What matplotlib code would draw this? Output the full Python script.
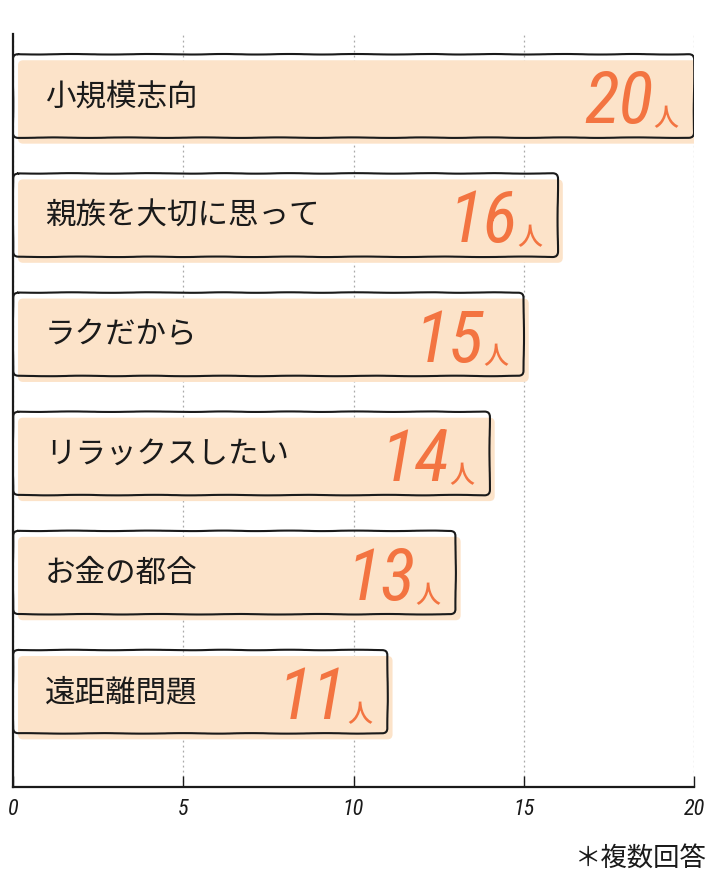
import numpy as np
import matplotlib
matplotlib.use("Agg")
import matplotlib.pyplot as plt
from matplotlib.patches import FancyBboxPatch
from matplotlib import transforms

plt.rcParams['font.family'] = ['Noto Sans CJK JP', 'DejaVu Sans']

# data
categories = ["小規模志向", "親族を大切に思って", "ラクだから",
              "リラックスしたい", "お金の都合", "遠距離問題"]
counts = [20, 16, 15, 14, 13, 11]
xticks = [0, 5, 10, 15, 20]

fill_color = "#fce3c9"
value_color = "#f37441"
num_font = ['Roboto Condensed', 'Noto Sans', 'DejaVu Sans']

fig = plt.figure(figsize=(7.2, 8.79), dpi=100)
ax = fig.add_axes([13 / 720, 91 / 879, 681 / 720, 753 / 879])

y = np.arange(len(categories))
bars = ax.barh(y, counts, height=0.7, color="none", edgecolor="none")

ax.set_xlim(0, 20)
ax.set_ylim(5.8, -0.52)

# fill is shifted a little right and down from the outline
shift = transforms.offset_copy(ax.transData, fig, x=5, y=-6, units='dots')
aspect = (1 / 119.2) / (1 / 34.05)

for rect, cat, val in zip(bars, categories, counts):
    x0, y0 = rect.get_x(), rect.get_y()
    w, h = rect.get_width(), rect.get_height()
    fill = FancyBboxPatch((x0, y0), w, h,
                          boxstyle="round,pad=0,rounding_size=0.15",
                          mutation_aspect=aspect, facecolor=fill_color,
                          edgecolor="none", transform=shift, zorder=2)
    ax.add_patch(fill)
    edge = FancyBboxPatch((x0, y0), w, h,
                          boxstyle="round,pad=0,rounding_size=0.15",
                          mutation_aspect=aspect, facecolor="none",
                          edgecolor="#1a1a1a", linewidth=1.5, zorder=3)
    edge.set_sketch_params(0.25, 90, 3)
    ax.add_patch(edge)

    yc = y0 + h / 2
    ax.annotate(cat, (0, yc), xytext=(23, 0), textcoords="offset points",
                ha="left", va="center", fontsize=22, color="#1a1a1a", zorder=4)
    ax.annotate(str(val), (val, yc), xytext=(-29, -19), textcoords="offset points",
                ha="right", va="baseline", fontsize=52, style="italic",
                stretch="condensed", family=num_font, color=value_color, zorder=4)
    ax.annotate("人", (val, yc), xytext=(-11, -21), textcoords="offset points",
                ha="right", va="baseline", fontsize=18, color=value_color,
                weight="medium", zorder=4)

ax.set_xticks(xticks)
ax.set_xticklabels([str(t) for t in xticks], family=num_font, style="italic",
                   stretch="condensed", fontsize=16)
ax.set_yticks([])
ax.tick_params(axis="x", direction="in", length=8, width=1, pad=8, colors="#1a1a1a")
ax.grid(axis="x", linestyle=(0, (1.5, 2.5)), color="#aaaaaa", linewidth=0.9, zorder=0)
ax.set_axisbelow(True)

for side in ["top", "right"]:
    ax.spines[side].set_visible(False)
ax.spines["left"].set_linewidth(1.6)
ax.spines["bottom"].set_linewidth(1.6)
ax.spines["left"].set_color("#1a1a1a")
ax.spines["bottom"].set_color("#1a1a1a")

fig.text(0.982, 0.024, "＊複数回答", ha="right", va="center", fontsize=19,
         color="#1a1a1a")

fig.savefig("out.png", dpi=100)
